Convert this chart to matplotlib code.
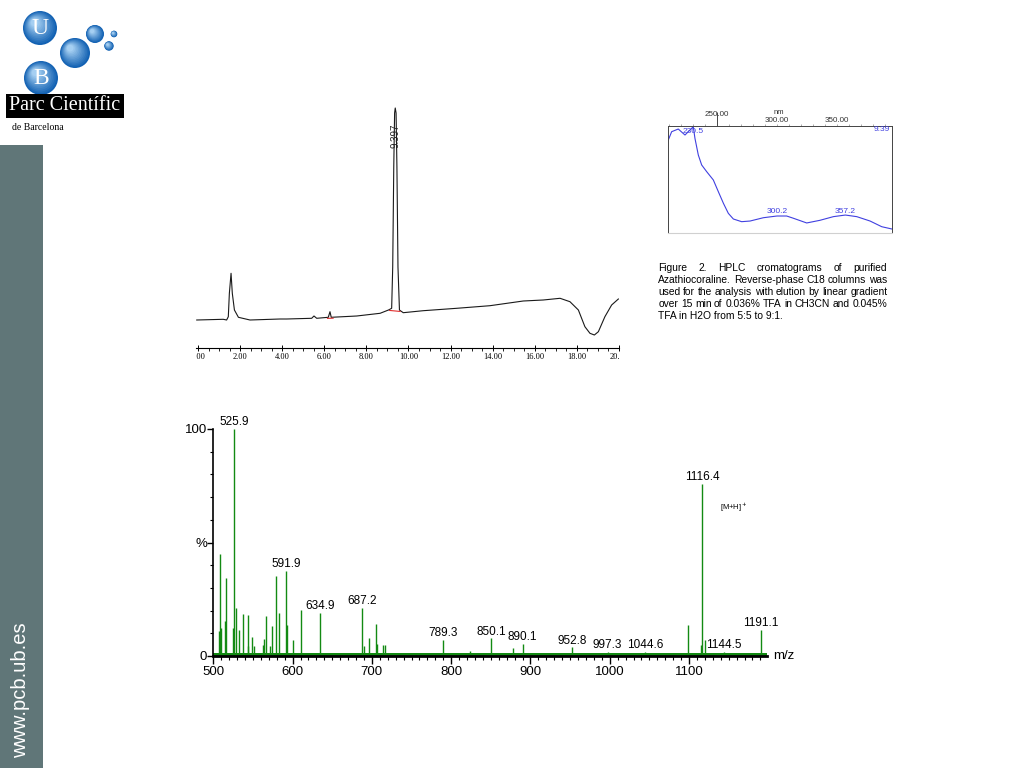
import numpy as np
import matplotlib
matplotlib.use("Agg")
import matplotlib.pyplot as plt
from matplotlib.patches import Rectangle, Circle
from matplotlib.ticker import MultipleLocator, FixedLocator, FormatStrFormatter
from matplotlib.transforms import Bbox

plt.rcParams['font.family'] = ['Liberation Sans', 'DejaVu Sans']

# HPLC chromatogram (time in min, signal in arbitrary units)
hplc_time = [-0.06, 1.20, 1.36, 1.44, 1.49, 1.57, 1.63, 1.73, 1.92, 2.47, 3.90, 4.21,
             5.40, 5.51, 5.64, 6.19, 6.27, 6.33, 7.54, 8.65, 9.05, 9.20, 9.25, 9.30,
             9.34, 9.37, 9.41, 9.45, 9.50, 9.57, 9.75, 10.70, 12.29, 13.87, 15.45,
             16.40, 17.20, 17.67, 18.07, 18.38, 18.62, 18.83, 19.02, 19.33, 19.65, 19.97]
hplc_signal = [0.0, 0.7, 0.0, 3.3, 26.7, 46.7, 26.7, 10.0, 2.7, 0.0, 1.0, 1.0,
               1.7, 4.0, 1.7, 2.7, 8.3, 2.7, 4.0, 6.7, 10.0, 11.7, 53.0, 153.0,
               207.0, 212.0, 207.0, 153.0, 53.0, 10.0, 7.3, 9.3, 11.7, 14.3, 19.0,
               20.0, 21.7, 18.3, 10.0, -6.7, -13.3, -15.0, -11.7, 3.3, 15.0, 21.0]
hplc_peak_rt = 9.397
hplc_integ_start = [6.15, 9.10]
hplc_integ_end = [6.42, 9.60]

# UV spectrum of the main peak
uv_rt_label = '9.39'
uv_nm = [209.7, 212.5, 218.0, 223.6, 229.2, 230.5, 231.9, 234.7, 237.5, 241.7, 247.2,
         251.4, 255.6, 259.7, 263.9, 270.8, 277.8, 288.9, 300.2, 308.3, 313.9, 325.0,
         336.1, 347.2, 357.2, 366.7, 377.8, 387.5, 395.8]
uv_abs = [0.866, 0.944, 0.969, 0.913, 0.976, 0.991, 0.882, 0.726, 0.633, 0.570, 0.493,
          0.383, 0.275, 0.181, 0.128, 0.103, 0.109, 0.140, 0.156, 0.156, 0.135, 0.091,
          0.116, 0.150, 0.165, 0.150, 0.109, 0.056, 0.035]
uv_maxima = [230.5, 300.2, 357.2]
uv_tick_labels = [250, 300, 350]

# mass spectrum (m/z, relative intensity %)
ms_label_mz = [525.9, 591.9, 634.9, 687.2, 789.3, 850.1, 890.1, 952.8, 997.3, 1044.6,
               1116.4, 1144.5, 1191.1]
ms_label_int = [100.0, 37.5, 19.1, 21.3, 7.2, 7.8, 5.3, 3.8, 1.8, 1.8, 75.8, 1.8, 11.5]
ms_other_mz = [507.6, 508.4, 509.7, 515.2, 516.0, 524.4, 528.2, 532.8, 537.8, 543.3,
               544.1, 548.8, 551.7, 562.2, 563.9, 566.4, 571.5, 574.4, 579.0, 583.2,
               593.3, 600.9, 610.9, 690.0, 696.7, 704.7, 706.0, 714.3, 716.0, 823.6,
               878.2, 1098.8, 1115.0, 1120.7]
ms_other_int = [10.9, 44.9, 12.4, 15.3, 34.4, 12.4, 21.2, 11.3, 18.7, 4.4,
                18.2, 8.4, 4.4, 4.7, 7.6, 17.5, 4.4, 13.2, 35.1, 19.1,
                13.5, 6.9, 20.1, 4.4, 7.9, 14.0, 5.1, 4.7, 4.7, 2.0,
                3.7, 13.5, 4.7, 7.2]
ms_noise_floor = 1.4

caption = ["Figure 2. HPLC cromatograms of purified",
           "Azathiocoraline. Reverse-phase C18 columns was",
           "used for the analysis with elution by linear gradient",
           "over 15 min of 0.036% TFA in CH3CN and 0.045%",
           "TFA in H2O from 5:5 to 9:1."]

W, H = 1024, 768
fig = plt.figure(figsize=(W / 100, H / 100), dpi=100)


def px_axes(x0, y0, x1, y1):
    # pixel box measured from the top-left corner -> figure axes
    ax = fig.add_axes([x0 / W, 1 - y1 / H, (x1 - x0) / W, (y1 - y0) / H])
    ax.set_facecolor('none')
    return ax


# page background: side bar, logo, caption
bg = fig.add_axes([0, 0, 1, 1])
bg.set_xlim(0, W)
bg.set_ylim(H, 0)
bg.axis('off')

bg.add_patch(Rectangle((0, 145), 43, H - 145, color='#607678', lw=0))
bg.text(21, 690, 'www.pcb.ub.es', rotation=90, color='white', fontsize=14.5,
        ha='center', va='center')

spheres = [(40, 28, 17, 'U'), (41, 78, 17, 'B'), (75, 53, 15, ''), (95, 34, 9, ''),
           (114, 34, 3.3, ''), (109, 46, 4.7, '')]
dark = np.array([0.07, 0.38, 0.70])
light = np.array([0.70, 0.85, 0.97])
for cx, cy, r, letter in spheres:
    n = 12
    for k in range(n):
        f = k / n
        c = dark * (1 - f) + light * f
        rr = r * (1 - 0.85 * f)
        bg.add_patch(Circle((cx - 0.35 * r * f, cy - 0.35 * r * f), rr, color=c, lw=0))
    if letter:
        bg.text(cx, cy + 1, letter, color='white', fontsize=17, ha='center', va='center',
                family='Liberation Serif')
bg.add_patch(Rectangle((6, 94), 118, 24, color='black', lw=0))
bg.text(65, 106, 'Parc Científic', color='white', fontsize=14.5, ha='center',
        va='center', family='Liberation Serif')
bg.text(12, 127, 'de Barcelona', color='black', fontsize=7, ha='left', va='center',
        family='Liberation Serif')

# justified caption
renderer = fig.canvas.get_renderer()
cap_x0, cap_x1, cap_y0, cap_dy = 658.3, 887.3, 267.7, 12.15
for i, line in enumerate(caption):
    y = cap_y0 + i * cap_dy
    if i == len(caption) - 1:
        bg.text(cap_x0, y, line, fontsize=7.4, va='center', ha='left')
        continue
    words = line.split()
    arts = [bg.text(0, y, w, fontsize=7.4, va='center', ha='left') for w in words]
    widths = [a.get_window_extent(renderer).width for a in arts]
    gap = (cap_x1 - cap_x0 - sum(widths)) / (len(words) - 1)
    x = cap_x0
    for a, w in zip(arts, widths):
        a.set_x(x)
        x += w + gap

# HPLC chromatogram
ax_lc = px_axes(196, 100, 619, 347.7)
ax_lc.plot(hplc_time, hplc_signal, color='#1a1a1a', lw=0.8)
for t0, t1 in zip(hplc_integ_start, hplc_integ_end):
    ax_lc.plot([t0, t1], np.interp([t0, t1], hplc_time, hplc_signal) - 1.0,
               color='#e03030', lw=0.8)
ax_lc.text(hplc_peak_rt - 0.03, 184.5, f'{hplc_peak_rt:.3f}', rotation=90, fontsize=7,
           ha='center', va='center', color='#222222')
ax_lc.set_xlim(-0.095, 20.0)
ax_lc.set_ylim(-27.7, 220)
for s in ['left', 'right', 'top']:
    ax_lc.spines[s].set_visible(False)
ax_lc.spines['bottom'].set_linewidth(0.8)
ax_lc.set_yticks([])
ax_lc.xaxis.set_major_locator(MultipleLocator(2))
ax_lc.xaxis.set_minor_locator(MultipleLocator(0.5))
ax_lc.xaxis.set_major_formatter(FormatStrFormatter('%.2f'))
ax_lc.tick_params(axis='x', which='major', length=4, width=0.7, direction='inout',
                  labelsize=6, pad=2)
ax_lc.tick_params(axis='x', which='minor', length=2.5, width=0.6, direction='out')
for lbl in ax_lc.get_xticklabels():
    lbl.set_family('Liberation Serif')

# UV spectrum
ax_uv = px_axes(668.3, 125.7, 891.7, 232.7)
uv_col = '#4040e0'
ax_uv.plot(uv_nm, uv_abs, color=uv_col, lw=0.8)
ax_uv.set_xlim(209.7, 395.8)
ax_uv.set_ylim(0, 1)
for nm in uv_maxima:
    a = np.interp(nm, uv_nm, uv_abs)
    ax_uv.text(nm, min(a + 0.005, 0.91), f'{nm:.1f}', color=uv_col, fontsize=6,
               ha='center', va='bottom')
ax_uv.text(0.99, 0.965, uv_rt_label, transform=ax_uv.transAxes, color=uv_col,
           fontsize=6, ha='right', va='center')
for s in ['left', 'right', 'top']:
    ax_uv.spines[s].set_color('#444444')
    ax_uv.spines[s].set_linewidth(0.7)
ax_uv.spines['bottom'].set_color('#d0d0d0')
ax_uv.set_yticks([])
ax_uv.xaxis.tick_top()
ax_uv.xaxis.set_major_locator(FixedLocator(uv_tick_labels[:1]))
ax_uv.xaxis.set_minor_locator(MultipleLocator(10))
ax_uv.tick_params(axis='x', which='major', length=10, width=0.7, labeltop=False,
                  color='#444444')
ax_uv.tick_params(axis='x', which='minor', length=1.5, width=0.5, color='#888888')
xt = ax_uv.get_xaxis_transform()
for k, v in enumerate(uv_tick_labels):
    ax_uv.text(v, 1.107 if k == 0 else 1.044, f'{v:.2f}', transform=xt, fontsize=5.8,
               ha='center', va='center', color='#333333')
ax_uv.text(301.9, 1.128, 'nm', transform=xt, fontsize=5.5, ha='center', va='center',
           color='#333333')

# mass spectrum
ms_col = '#138a13'
ax_ms = px_axes(213.3, 429, 766.7, 656)
ax_ms.axhspan(0, ms_noise_floor, color=ms_col, lw=0)
ax_ms.vlines(ms_other_mz, 0, ms_other_int, color=ms_col, lw=1.0)
ax_ms.vlines(ms_label_mz, 0, ms_label_int, color=ms_col, lw=1.0)
for mz, it in zip(ms_label_mz, ms_label_int):
    ax_ms.annotate(f'{mz:.1f}', (mz, it), xytext=(0, 0.5), textcoords='offset points',
                   ha='center', va='bottom', fontsize=8.5, annotation_clip=False)
ax_ms.annotate('[M+H]$^+$', (ms_label_mz[10], ms_label_int[10]), xytext=(23, -17),
               textcoords='offset points', ha='center', va='center', fontsize=5.5)
ax_ms.annotate('m/z', xy=(1, 0), xycoords='axes fraction', xytext=(5, 0),
               textcoords='offset points', ha='left', va='center', fontsize=9.5)
ax_ms.set_xlim(500, 1198)
ax_ms.set_ylim(0, 100)
ax_ms.spines['right'].set_visible(False)
ax_ms.spines['top'].set_visible(False)
ax_ms.spines['bottom'].set_linewidth(2)
ax_ms.spines['left'].set_linewidth(1.2)
ax_ms.spines['bottom'].set_zorder(3)
ax_ms.xaxis.set_major_locator(MultipleLocator(100))
ax_ms.xaxis.set_minor_locator(MultipleLocator(10))
ax_ms.yaxis.set_major_locator(FixedLocator([0, 50, 100]))
ax_ms.yaxis.set_minor_locator(MultipleLocator(10))
ax_ms.set_yticklabels(['0', '%', '100'])
ax_ms.tick_params(axis='x', which='major', length=6, width=1, labelsize=9.5, pad=1)
ax_ms.tick_params(axis='x', which='minor', length=3, width=0.8)
ax_ms.tick_params(axis='y', which='major', length=4, width=1, labelsize=9.5, pad=0.5)
ax_ms.tick_params(axis='y', which='minor', length=2.5, width=0.8)

# the chromatogram picture is cropped at both ends, tick labels too
fig.canvas.draw()
clip = Bbox.from_extents(196, 0, 619, H)
for lbl in ax_lc.get_xticklabels():
    lbl.set_clip_box(clip)
    lbl.set_clip_on(True)

fig.savefig('out.png', dpi=100)
